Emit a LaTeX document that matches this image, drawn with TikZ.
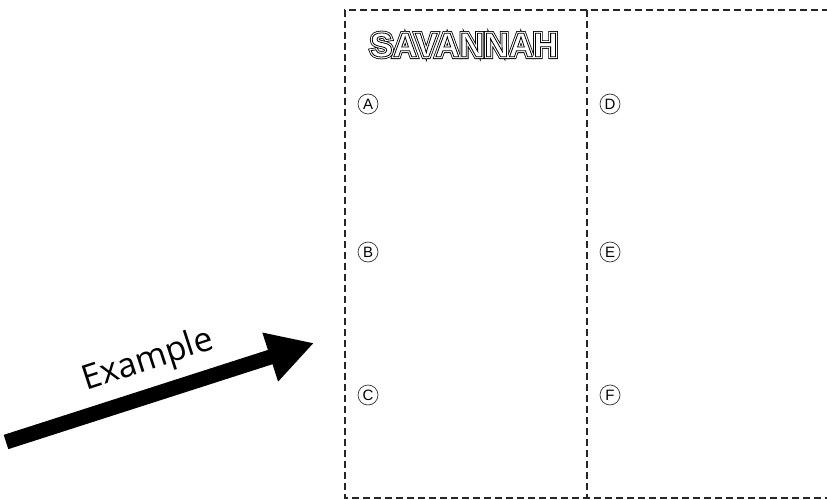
\documentclass[tikz,border=0pt]{standalone}
\usepackage{fontspec}
\usepackage{xcolor}
\usepackage{tikz}
\usetikzlibrary{arrows.meta,positioning}
\newfontfamily\labelfont{Open Sans}
\newfontfamily\circfont{Liberation Sans}
\newfontfamily\titlefont{Liberation Sans}
% outline text through the pdf text render mode
\newcommand{\outl}[3]{\special{pdf:code #1 Tr #2 w}#3\special{pdf:code 0 Tr 0.4 w}}
\tikzset{
  cut/.style={draw=black!85, line width=2.2pt, dash pattern=on 7pt off 4pt},
  letter/.style={circle, draw=black!80, line width=0.7pt, inner sep=0pt, minimum size=20pt, font=\circfont\fontsize{15}{15}\selectfont},
  bigarrow/.style={line width=15pt, -{Triangle[length=46pt,width=48pt]}},
  banner/.style={inner sep=0pt, font=\titlefont\bfseries\fontsize{34}{34}\selectfont}
}
\begin{document}
\begin{tikzpicture}[x=1pt,y=-1pt]
    \useasboundingbox (0,0) rectangle (827,500);
    % folding sheet
    \coordinate (tl) at (345,10);
    \coordinate (tr) at (829,10);
    \coordinate (bl) at (345,498);
    \coordinate (br) at (829,498);
    \coordinate (mt) at (587,10);
    \coordinate (mb) at (587,498);
    \draw[cut] (tr) -- (tl) -- (bl) -- (br);
    \draw[cut] (mt) -- (mb);

    \node[letter] (A) at (368,104) {A};
    \node[letter] (B) at (368,252) {B};
    \node[letter] (C) at (368,395) {C};
    \node[letter] (D) at (610,104) {D};
    \node[letter] (E) at (610,252) {E};
    \node[letter] (F) at (610,395) {F};

    % pointer
    \coordinate (tail) at (6,442);
    \coordinate (tip) at (314,343);
    \draw[bigarrow] (tail) -- (tip);
    \node[rotate=18, font=\labelfont\fontsize{34}{34}\selectfont] (example) at (148,361) {Example};

    \node[banner] (title) at (464,45) {\rlap{\outl{2}{4.6}{SAVANNAH}}\rlap{\color{white}\outl{2}{3}{SAVANNAH}}\outl{1}{0.8}{SAVANNAH}};
\end{tikzpicture}
\end{document}
